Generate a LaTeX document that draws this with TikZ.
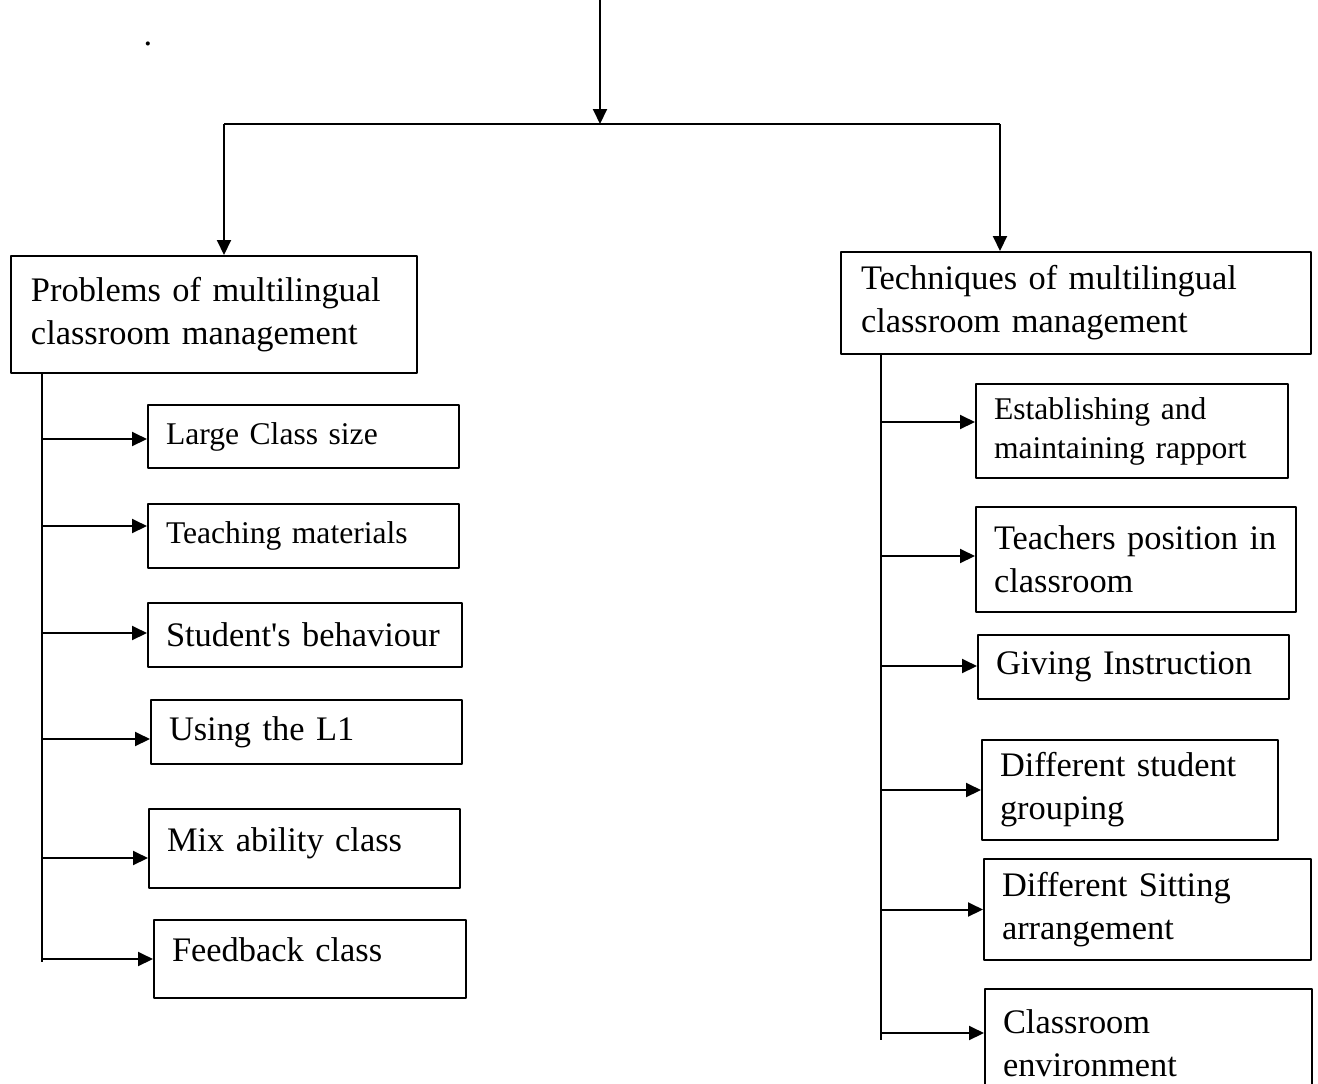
\documentclass[tikz,border=0pt]{standalone}
\usepackage{fontspec}
\setmainfont{Liberation Serif}
\usetikzlibrary{arrows.meta}
\tikzset{
  bigbox/.style={draw, anchor=north west, align=left, inner xsep=10pt, inner ysep=0pt, font=\fontsize{17.2}{21.5}\selectfont},
  subbox/.style={bigbox, inner xsep=9pt},
  small/.style={font=\fontsize{15.8}{19.5}\selectfont}
}
\begin{document}
\begin{tikzpicture}[x=0.5pt, y=-0.5pt, line width=1pt, line join=round, >={Triangle[length=7.5pt,width=7pt]}]
\useasboundingbox (0,0) rectangle (1318,1083);
\def\lx{42} \def\rx{881}
\node[font=\fontsize{17.2}{21.5}\selectfont] (dot) at (148,44) {.};
\node[bigbox, minimum height=58.5pt, text width=183pt] (prob) at (10,255) {Problems of multilingual\\classroom management};
\node[bigbox, minimum height=51pt, text width=215pt] (tech) at (840,251) {Techniques of multilingual\\classroom management};
\node[subbox, small, minimum height=31.5pt, text width=137.5pt] (large) at (147,404) {Large Class size};
\node[subbox, small, minimum height=32pt, text width=137.5pt] (teach) at (147,503) {Teaching materials};
\node[subbox, minimum height=32pt, text width=139pt] (stud) at (147,602) {Student\textquotesingle s behaviour};
\node[subbox, minimum height=32pt, text width=137.5pt] (using) at (150,699) {Using the L1};
\node[subbox, minimum height=39.5pt, text width=137.5pt, text depth=8.7pt] (mix) at (148,808) {Mix ability class};
\node[subbox, minimum height=39pt, text width=138pt, text depth=9.7pt] (feed) at (153,919) {Feedback class};
\node[subbox, small, minimum height=47pt, text width=138pt] (rapport) at (975,383) {Establishing and\\maintaining rapport};
\node[subbox, minimum height=52.5pt, text width=142pt] (position) at (975,506) {Teachers position in\\classroom};
\node[subbox, minimum height=32pt, text width=137.5pt] (instr) at (977,634) {Giving Instruction};
\node[subbox, minimum height=50pt, text width=130pt] (group) at (981,739) {Different student\\grouping};
\node[subbox, minimum height=50.5pt, text width=145.5pt] (sitting) at (983,858) {Different Sitting\\arrangement};
\node[subbox, minimum height=54pt, text width=145.5pt] (env) at (984,988) {Classroom\\environment};
\coordinate (top) at (600,0);
\coordinate (fork) at (600,124);
\coordinate (lfork) at (224,124);
\coordinate (rfork) at (1000,124);
\coordinate (lend) at (\lx,962);
\coordinate (rend) at (\rx,1040);
\draw[->] (top) -- (fork);
\draw (lfork) -- (rfork);
\draw[->] (lfork) -- (lfork |- prob.north);
\draw[->] (rfork) -- (rfork |- tech.north);
\draw (prob.south -| lend) -- (lend);
\draw (tech.south -| rend) -- (rend);
\foreach \n/\s in {large/-1.25,teach/5,stud/1,using/-3.5,mix/-4.75,feed/0}
\draw[->] ([yshift=\s pt]\n.west -| lend) -- ([yshift=\s pt]\n.west);
\foreach \n/\s in {rapport/4.5,position/1.75,instr/0.5,group/0,sitting/0,env/5}
\draw[->] ([yshift=\s pt]\n.west -| rend) -- ([yshift=\s pt]\n.west);
\end{tikzpicture}
\end{document}
